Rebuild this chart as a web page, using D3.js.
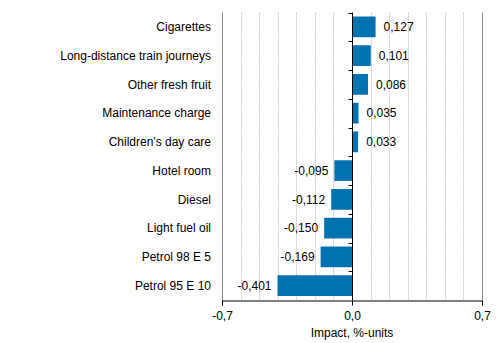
<!DOCTYPE html>
<html><head><meta charset="utf-8">
<script src="https://cdn.jsdelivr.net/npm/d3@7"></script>
<style>body{margin:0;background:#fff}text{font-family:"Liberation Sans",Arial,sans-serif}</style>
</head><body><svg id="c" width="499" height="343"></svg>
<script>
const categories = ["Cigarettes","Long-distance train journeys","Other fresh fruit","Maintenance charge","Children's day care","Hotel room","Diesel","Light fuel oil","Petrol 98 E 5","Petrol 95 E 10"];
const values = [0.127,0.101,0.086,0.035,0.033,-0.095,-0.112,-0.150,-0.169,-0.401];
const xTicks = [-0.7,0,0.7];
const xTitle = "Impact, %-units";

(function(){
const svg = d3.select("#c");
const pL = 222, pR = 482, pT = 12.5, pB = 300;
const x = d3.scaleLinear().domain([-0.7,0.7]).range([pL,pR]);
const y = d3.scaleBand().domain(categories).range([pT,pB]).paddingInner(0.28).paddingOuter(0.14);
const fmt = v => d3.format(".3f")(v).replace(".",",").replace("−","-");
const fmt1 = v => d3.format(".1f")(v).replace(".",",").replace("−","-");

const minor = d3.range(-7,8).map(i=>i/10).filter(v=>Math.abs(v)!==0.7 && v!==0);
svg.append("g").selectAll("line").data(minor).join("line")
  .attr("x1",d=>Math.round(x(d))+0.5).attr("x2",d=>Math.round(x(d))+0.5)
  .attr("y1",pT).attr("y2",pB)
  .attr("stroke","#c8c8c8").attr("stroke-dasharray","2,1");
svg.append("g").selectAll("line").data([-0.7,0.7]).join("line")
  .attr("x1",d=>Math.round(x(d))+0.5).attr("x2",d=>Math.round(x(d))+0.5)
  .attr("y1",pT).attr("y2",pB)
  .attr("stroke","#8c8c8c");

svg.append("g").selectAll("rect").data(values).join("rect")
  .attr("x",(d)=>x(Math.min(0,d))).attr("width",d=>Math.abs(x(d)-x(0)))
  .attr("y",(d,i)=>y(categories[i])).attr("height",y.bandwidth())
  .attr("fill","#0072b0");

svg.append("g").selectAll("text").data(values).join("text")
  .attr("x",d=> d>=0 ? x(d)+8 : x(d)-6)
  .attr("y",(d,i)=>y(categories[i])+y.bandwidth()/2)
  .attr("dy","0.35em").attr("text-anchor",d=>d>=0?"start":"end")
  .attr("font-size",12).attr("fill","#000").text(fmt);

const ticksY = svg.append("g");
ticksY.append("line").attr("x1",Math.round(x(0))+0.5).attr("x2",Math.round(x(0))+0.5)
  .attr("y1",pT).attr("y2",pB).attr("stroke","#000");
const bounds = d3.range(0,categories.length).map(i=>pT+i*(pB-pT)/categories.length);
ticksY.selectAll("line.t").data(bounds).join("line").attr("class","t")
  .attr("x1",Math.round(x(0))+0.5-4).attr("x2",Math.round(x(0))+0.5)
  .attr("y1",d=>Math.round(d)+0.5).attr("y2",d=>Math.round(d)+0.5).attr("stroke","#000");

svg.append("g").selectAll("text").data(categories).join("text")
  .attr("x",211).attr("y",d=>y(d)+y.bandwidth()/2).attr("dy","0.35em")
  .attr("text-anchor","end").attr("font-size",12).attr("fill","#000").text(d=>d);

const gx = svg.append("g").attr("transform",`translate(0,${pB+0.5})`)
  .call(d3.axisBottom(x).tickValues(xTicks).tickSize(5).tickFormat(fmt1));
gx.select(".domain").attr("stroke","#000");
gx.selectAll(".tick line").attr("stroke","#000");
gx.selectAll(".tick text").attr("font-size",12).attr("fill","#000").attr("font-family","Liberation Sans, Arial, sans-serif").attr("dy","0.95em");

svg.append("text").attr("x",x(0)).attr("y",337).attr("text-anchor","middle")
  .attr("font-size",12).attr("fill","#000").text(xTitle);
})();
</script></body></html>
